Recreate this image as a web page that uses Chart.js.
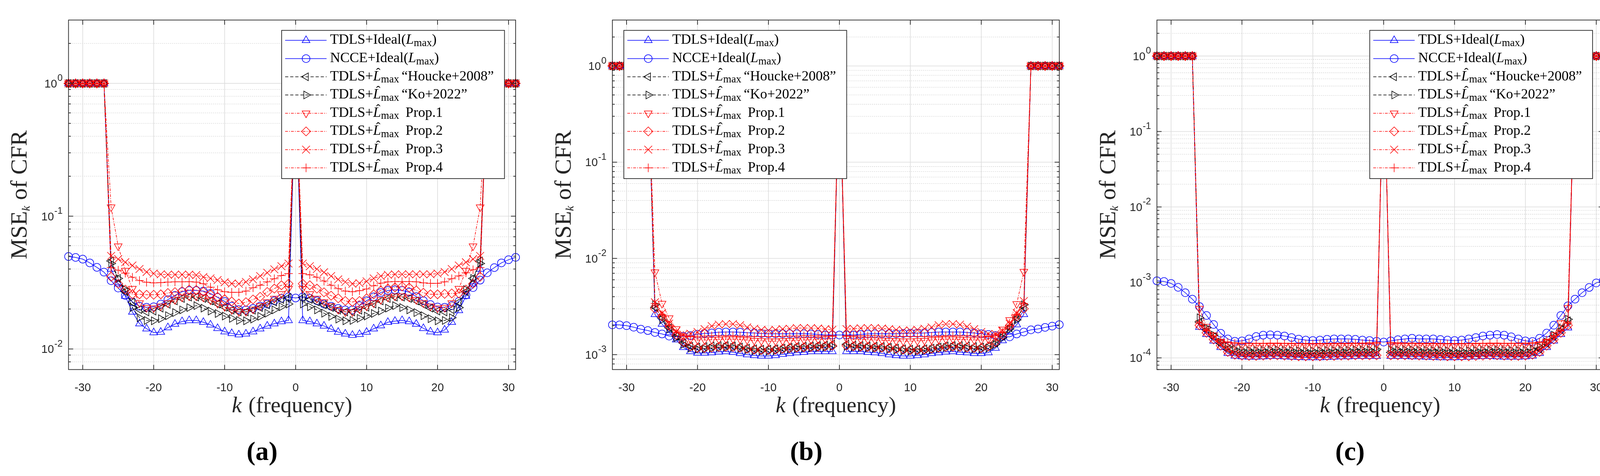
<!DOCTYPE html>
<html>
<head>
<meta charset="utf-8">
<script src="https://cdn.jsdelivr.net/npm/chart.js@4.4.1/dist/chart.umd.min.js"></script>
<style>
  html, body { margin: 0; padding: 0; background: #fff; }
  #wrap { position: relative; width: 4142px; height: 1218px; overflow: hidden; background: #fff; }
  #wrap canvas { position: absolute; top: 0; }
</style>
</head>
<body>
<div id="wrap">
  <canvas id="cA"></canvas>
  <canvas id="cB"></canvas>
  <canvas id="cC"></canvas>
</div>
<script>
// subcarrier index k
const kValues = [-32,-31,-30,-29,-28,-27,-26,-25,-24,-23,-22,-21,-20,-19,-18,-17,-16,-15,-14,-13,-12,-11,-10,-9,-8,-7,-6,-5,-4,-3,-2,-1,
  0,1,2,3,4,5,6,7,8,9,10,11,12,13,14,15,16,17,18,19,20,21,22,23,24,25,26,27,28,29,30,31];
const xTicks = [-30, -20, -10, 0, 10, 20, 30];
const panelTags = ["(a)", "(b)", "(c)"];
const seriesLabels = [
  "TDLS+Ideal(Lmax)", "NCCE+Ideal(Lmax)", "TDLS+L^max \u201CHoucke+2008\u201D", "TDLS+L^max \u201CKo+2022\u201D",
  "TDLS+L^max Prop.1", "TDLS+L^max Prop.2", "TDLS+L^max Prop.3", "TDLS+L^max Prop.4"
];

// ---- panel (a) ----
const tdlsIdealA = [1,1,1,1,1,1,
  0.040,0.031,0.025,0.019,0.0155,0.0142,0.0133,0.0134,0.0145,0.0154,0.0161,0.0164,0.0164,0.0159,0.0152,0.0143,0.0135,0.0131,0.0128,0.0130,0.0135,0.0142,0.0149,0.0155,0.0161,0.0164,
  1,
  0.0164,0.0161,0.0155,0.0149,0.0141,0.0134,0.0130,0.0127,0.0129,0.0134,0.0142,0.0150,0.0159,0.0162,0.0164,0.0161,0.0154,0.0143,0.0135,0.0133,0.0139,0.0159,0.0195,0.025,0.031,0.040,
  1,1,1,1,1];
const ncceA = [0.0497,0.0489,0.0475,0.0445,0.0412,0.0379,
  0.0327,0.0288,0.0253,0.0226,0.0210,0.0206,0.0208,0.0218,0.0235,0.0253,0.0270,0.0276,0.0276,0.0273,0.0262,0.0245,0.0228,0.0210,0.0198,0.0197,0.0202,0.0210,0.0218,0.0231,0.0241,0.0247,
  0.0242,
  0.0247,0.0241,0.0231,0.0218,0.0210,0.0202,0.0197,0.0197,0.0212,0.0231,0.0247,0.0266,0.0276,0.0279,0.0276,0.0268,0.0248,0.0231,0.0216,0.0207,0.0206,0.0212,0.0228,0.0255,0.0290,0.0330,
  0.0375,0.0410,0.0445,0.0470,0.0490];
const houckeA = [1,1,1,1,1,1,
  0.046,0.034,0.027,0.0225,0.0198,0.0190,0.0193,0.0203,0.0217,0.0230,0.0240,0.0246,0.0246,0.0240,0.0230,0.0218,0.0206,0.0196,0.0190,0.0190,0.0196,0.0205,0.0215,0.0226,0.0236,0.0244,
  1,
  0.0244,0.0236,0.0226,0.0215,0.0205,0.0196,0.0190,0.0190,0.0196,0.0206,0.0218,0.0230,0.0240,0.0246,0.0246,0.0240,0.0230,0.0217,0.0203,0.0193,0.0190,0.0198,0.0225,0.027,0.034,0.046,
  1,1,1,1,1];
const koA = [1,1,1,1,1,1,
  0.044,0.034,0.028,0.0205,0.0172,0.0164,0.0163,0.0169,0.0178,0.0188,0.0197,0.0205,0.0212,0.0203,0.0193,0.0185,0.0177,0.0170,0.0164,0.0163,0.0168,0.0176,0.0186,0.0197,0.0208,0.0218,
  1,
  0.0218,0.0208,0.0197,0.0186,0.0176,0.0168,0.0163,0.0164,0.0170,0.0177,0.0185,0.0193,0.0203,0.0212,0.0205,0.0197,0.0188,0.0178,0.0169,0.0163,0.0164,0.0172,0.0205,0.028,0.034,0.044,
  1,1,1,1,1];
const prop1A = [1,1,1,1,1,1,
  0.117,0.0595,0.039,0.0285,0.0222,0.0205,0.0203,0.0210,0.0222,0.0235,0.0245,0.0250,0.0250,0.0245,0.0233,0.0220,0.0208,0.0197,0.0190,0.0191,0.0199,0.0211,0.0226,0.0240,0.0260,0.0285,
  1,
  0.0285,0.0260,0.0240,0.0226,0.0211,0.0198,0.0190,0.0190,0.0200,0.0210,0.0222,0.0235,0.0245,0.0250,0.0250,0.0245,0.0235,0.0222,0.0210,0.0203,0.0205,0.0222,0.0285,0.039,0.0595,0.117,
  1,1,1,1,1];
const prop2A = [1,1,1,1,1,1,
  0.035,0.031,0.028,0.0258,0.0258,0.0256,0.0256,0.0258,0.0264,0.0268,0.0273,0.0280,0.0278,0.0270,0.0258,0.0247,0.0237,0.0228,0.0220,0.0225,0.0236,0.0247,0.0269,0.0285,0.0302,0.0310,
  1,
  0.0310,0.0302,0.0285,0.0267,0.0252,0.0241,0.0230,0.0226,0.0230,0.0241,0.0258,0.0276,0.0285,0.0291,0.0296,0.0290,0.0276,0.0265,0.0258,0.0258,0.0260,0.0262,0.0262,0.028,0.031,0.035,
  1,1,1,1,1];
const prop3A = [1,1,1,1,1,1,
  0.0502,0.0475,0.0450,0.0425,0.0400,0.0380,0.0370,0.0365,0.0363,0.0363,0.0363,0.0363,0.0360,0.0348,0.0340,0.0330,0.0318,0.0311,0.0310,0.0320,0.0334,0.0354,0.0375,0.0398,0.0420,0.0440,
  1,
  0.0440,0.0420,0.0400,0.0378,0.0354,0.0334,0.0320,0.0310,0.0313,0.0323,0.0340,0.0354,0.0362,0.0365,0.0365,0.0365,0.0365,0.0365,0.0365,0.0370,0.0380,0.0400,0.0425,0.0450,0.0475,0.0502,
  1,1,1,1,1];
const prop4A = [1,1,1,1,1,1,
  0.0410,0.0392,0.0372,0.0347,0.0328,0.0318,0.0315,0.0316,0.0319,0.0320,0.0320,0.0321,0.0319,0.0310,0.0292,0.0279,0.0270,0.0267,0.0267,0.0273,0.0289,0.0302,0.0320,0.0338,0.0357,0.0370,
  1,
  0.0370,0.0362,0.0347,0.0325,0.0302,0.0285,0.0273,0.0270,0.0275,0.0283,0.0299,0.0313,0.0320,0.0322,0.0322,0.0322,0.0320,0.0315,0.0312,0.0312,0.0320,0.0338,0.0355,0.0375,0.0395,0.0410,
  1,1,1,1,1];

// ---- panel (b) ----
const tdlsIdealB = [1,1,1,1,1,1,
  2.62e-3,2.08e-3,1.70e-3,1.43e-3,1.19e-3,1.08e-3,1.04e-3,1.04e-3,1.05e-3,1.07e-3,1.08e-3,1.06e-3,1.03e-3,1.00e-3,0.98e-3,0.97e-3,0.97e-3,0.98e-3,1.01e-3,1.03e-3,1.05e-3,1.06e-3,1.08e-3,1.08e-3,1.08e-3,1.08e-3,
  1,
  1.08e-3,1.08e-3,1.08e-3,1.06e-3,1.05e-3,1.03e-3,1.00e-3,0.98e-3,0.97e-3,0.97e-3,0.98e-3,1.00e-3,1.03e-3,1.05e-3,1.07e-3,1.08e-3,1.06e-3,1.05e-3,1.03e-3,1.03e-3,1.05e-3,1.17e-3,1.40e-3,1.72e-3,2.05e-3,2.62e-3,
  1,1,1,1,1];
const ncceB = [2.04e-3,2.04e-3,2.00e-3,1.93e-3,1.84e-3,1.78e-3,
  1.70e-3,1.64e-3,1.56e-3,1.54e-3,1.55e-3,1.58e-3,1.63e-3,1.66e-3,1.68e-3,1.71e-3,1.72e-3,1.72e-3,1.71e-3,1.69e-3,1.68e-3,1.66e-3,1.65e-3,1.65e-3,1.65e-3,1.65e-3,1.65e-3,1.65e-3,1.64e-3,1.62e-3,1.60e-3,1.60e-3,
  1.60e-3,
  1.60e-3,1.60e-3,1.62e-3,1.64e-3,1.65e-3,1.65e-3,1.65e-3,1.65e-3,1.66e-3,1.67e-3,1.67e-3,1.68e-3,1.70e-3,1.72e-3,1.72e-3,1.72e-3,1.72e-3,1.70e-3,1.68e-3,1.65e-3,1.62e-3,1.58e-3,1.55e-3,1.53e-3,1.64e-3,1.72e-3,
  1.81e-3,1.85e-3,1.92e-3,1.98e-3,2.05e-3];
const houckeB = [1,1,1,1,1,1,
  3.10e-3,2.40e-3,1.90e-3,1.55e-3,1.32e-3,1.22e-3,1.20e-3,1.21e-3,1.23e-3,1.24e-3,1.24e-3,1.23e-3,1.20e-3,1.17e-3,1.15e-3,1.14e-3,1.14e-3,1.15e-3,1.17e-3,1.19e-3,1.21e-3,1.22e-3,1.23e-3,1.24e-3,1.25e-3,1.28e-3,
  1,
  1.28e-3,1.25e-3,1.24e-3,1.23e-3,1.22e-3,1.21e-3,1.19e-3,1.17e-3,1.15e-3,1.14e-3,1.14e-3,1.15e-3,1.17e-3,1.20e-3,1.23e-3,1.24e-3,1.24e-3,1.23e-3,1.21e-3,1.20e-3,1.22e-3,1.32e-3,1.55e-3,1.90e-3,2.40e-3,3.10e-3,
  1,1,1,1,1];
const koB = [1,1,1,1,1,1,
  3.30e-3,2.30e-3,1.85e-3,1.50e-3,1.28e-3,1.17e-3,1.14e-3,1.15e-3,1.17e-3,1.19e-3,1.20e-3,1.19e-3,1.16e-3,1.13e-3,1.10e-3,1.09e-3,1.09e-3,1.10e-3,1.12e-3,1.14e-3,1.16e-3,1.17e-3,1.18e-3,1.19e-3,1.20e-3,1.22e-3,
  1,
  1.22e-3,1.20e-3,1.19e-3,1.18e-3,1.17e-3,1.16e-3,1.14e-3,1.12e-3,1.10e-3,1.09e-3,1.09e-3,1.10e-3,1.13e-3,1.16e-3,1.19e-3,1.20e-3,1.19e-3,1.17e-3,1.15e-3,1.14e-3,1.17e-3,1.28e-3,1.50e-3,1.85e-3,2.30e-3,3.30e-3,
  1,1,1,1,1];
const prop1B = [1,1,1,1,1,1,
  7.20e-3,3.40e-3,2.40e-3,1.85e-3,1.55e-3,1.45e-3,1.42e-3,1.42e-3,1.43e-3,1.44e-3,1.45e-3,1.45e-3,1.44e-3,1.42e-3,1.40e-3,1.39e-3,1.38e-3,1.38e-3,1.39e-3,1.40e-3,1.41e-3,1.42e-3,1.43e-3,1.44e-3,1.45e-3,1.47e-3,
  1,
  1.47e-3,1.45e-3,1.44e-3,1.43e-3,1.42e-3,1.41e-3,1.40e-3,1.39e-3,1.38e-3,1.38e-3,1.39e-3,1.40e-3,1.42e-3,1.44e-3,1.45e-3,1.45e-3,1.44e-3,1.43e-3,1.42e-3,1.42e-3,1.45e-3,1.55e-3,1.83e-3,2.30e-3,3.37e-3,7.30e-3,
  1,1,1,1,1];
const prop2B = [1,1,1,1,1,1,
  3.00e-3,2.50e-3,2.00e-3,1.60e-3,1.35e-3,1.22e-3,1.17e-3,1.17e-3,1.18e-3,1.20e-3,1.21e-3,1.20e-3,1.18e-3,1.15e-3,1.13e-3,1.12e-3,1.12e-3,1.13e-3,1.15e-3,1.17e-3,1.18e-3,1.19e-3,1.20e-3,1.21e-3,1.22e-3,1.24e-3,
  1,
  1.24e-3,1.22e-3,1.21e-3,1.20e-3,1.19e-3,1.18e-3,1.17e-3,1.15e-3,1.13e-3,1.12e-3,1.12e-3,1.13e-3,1.15e-3,1.18e-3,1.20e-3,1.21e-3,1.20e-3,1.18e-3,1.17e-3,1.17e-3,1.22e-3,1.35e-3,1.60e-3,2.00e-3,2.50e-3,3.00e-3,
  1,1,1,1,1];
const prop3B = [1,1,1,1,1,1,
  3.50e-3,2.70e-3,2.10e-3,1.75e-3,1.62e-3,1.65e-3,1.72e-3,1.84e-3,1.98e-3,2.05e-3,2.08e-3,2.08e-3,2.02e-3,1.92e-3,1.86e-3,1.81e-3,1.78e-3,1.81e-3,1.84e-3,1.86e-3,1.89e-3,1.89e-3,1.89e-3,1.87e-3,1.84e-3,1.81e-3,
  1,
  1.84e-3,1.86e-3,1.88e-3,1.89e-3,1.89e-3,1.87e-3,1.84e-3,1.81e-3,1.78e-3,1.78e-3,1.81e-3,1.86e-3,1.92e-3,2.02e-3,2.08e-3,2.08e-3,2.05e-3,1.95e-3,1.84e-3,1.72e-3,1.64e-3,1.64e-3,1.78e-3,2.10e-3,2.70e-3,3.60e-3,
  1,1,1,1,1];
const prop4B = [1,1,1,1,1,1,
  3.40e-3,2.60e-3,2.00e-3,1.70e-3,1.58e-3,1.55e-3,1.55e-3,1.56e-3,1.57e-3,1.57e-3,1.57e-3,1.57e-3,1.56e-3,1.55e-3,1.54e-3,1.54e-3,1.54e-3,1.54e-3,1.55e-3,1.56e-3,1.56e-3,1.57e-3,1.57e-3,1.57e-3,1.57e-3,1.57e-3,
  1,
  1.57e-3,1.57e-3,1.57e-3,1.57e-3,1.57e-3,1.56e-3,1.56e-3,1.55e-3,1.54e-3,1.54e-3,1.54e-3,1.54e-3,1.55e-3,1.56e-3,1.57e-3,1.57e-3,1.57e-3,1.57e-3,1.56e-3,1.55e-3,1.55e-3,1.58e-3,1.70e-3,2.00e-3,2.60e-3,3.40e-3,
  1,1,1,1,1];

// ---- panel (c) ----
const tdlsIdealC = [1,1,1,1,1,1,
  2.55e-4,2.05e-4,1.68e-4,1.38e-4,1.15e-4,1.06e-4,1.04e-4,1.03e-4,1.03e-4,1.04e-4,1.05e-4,1.05e-4,1.04e-4,1.03e-4,1.02e-4,1.01e-4,1.01e-4,1.01e-4,1.02e-4,1.03e-4,1.04e-4,1.04e-4,1.05e-4,1.05e-4,1.05e-4,1.05e-4,
  1,
  1.05e-4,1.05e-4,1.05e-4,1.04e-4,1.04e-4,1.03e-4,1.02e-4,1.01e-4,1.01e-4,1.01e-4,1.02e-4,1.03e-4,1.04e-4,1.05e-4,1.05e-4,1.04e-4,1.03e-4,1.03e-4,1.03e-4,1.04e-4,1.06e-4,1.15e-4,1.38e-4,1.68e-4,2.05e-4,2.50e-4,
  1,1,1,1,1];
const ncceC = [1.05e-3,1.03e-3,9.7e-4,8.6e-4,7.3e-4,6.0e-4,
  4.8e-4,3.65e-4,2.77e-4,2.12e-4,1.78e-4,1.66e-4,1.68e-4,1.78e-4,1.92e-4,2.00e-4,2.02e-4,2.00e-4,1.95e-4,1.86e-4,1.77e-4,1.72e-4,1.70e-4,1.72e-4,1.76e-4,1.78e-4,1.78e-4,1.78e-4,1.76e-4,1.72e-4,1.70e-4,1.66e-4,
  1.62e-4,
  1.68e-4,1.74e-4,1.78e-4,1.82e-4,1.78e-4,1.78e-4,1.78e-4,1.75e-4,1.72e-4,1.70e-4,1.72e-4,1.78e-4,1.86e-4,1.95e-4,2.00e-4,2.04e-4,2.00e-4,1.90e-4,1.78e-4,1.68e-4,1.65e-4,1.82e-4,2.13e-4,2.71e-4,3.65e-4,4.90e-4,
  6.0e-4,7.3e-4,8.57e-4,9.85e-4,1.065e-3];
const houckeC = [1,1,1,1,1,1,
  3.00e-4,2.35e-4,1.90e-4,1.55e-4,1.30e-4,1.20e-4,1.16e-4,1.15e-4,1.15e-4,1.16e-4,1.17e-4,1.17e-4,1.16e-4,1.15e-4,1.14e-4,1.14e-4,1.14e-4,1.14e-4,1.15e-4,1.16e-4,1.16e-4,1.17e-4,1.17e-4,1.17e-4,1.17e-4,1.18e-4,
  1,
  1.18e-4,1.17e-4,1.17e-4,1.17e-4,1.17e-4,1.16e-4,1.16e-4,1.15e-4,1.14e-4,1.14e-4,1.14e-4,1.14e-4,1.15e-4,1.16e-4,1.17e-4,1.17e-4,1.16e-4,1.15e-4,1.15e-4,1.16e-4,1.20e-4,1.30e-4,1.55e-4,1.90e-4,2.35e-4,3.10e-4,
  1,1,1,1,1];
const koC = [1,1,1,1,1,1,
  3.40e-4,2.50e-4,2.00e-4,1.62e-4,1.40e-4,1.30e-4,1.27e-4,1.26e-4,1.26e-4,1.27e-4,1.28e-4,1.28e-4,1.27e-4,1.26e-4,1.25e-4,1.24e-4,1.24e-4,1.25e-4,1.26e-4,1.26e-4,1.27e-4,1.27e-4,1.28e-4,1.28e-4,1.28e-4,1.30e-4,
  1,
  1.30e-4,1.28e-4,1.28e-4,1.28e-4,1.27e-4,1.27e-4,1.26e-4,1.26e-4,1.25e-4,1.24e-4,1.24e-4,1.25e-4,1.26e-4,1.27e-4,1.28e-4,1.28e-4,1.27e-4,1.26e-4,1.26e-4,1.27e-4,1.30e-4,1.40e-4,1.62e-4,2.00e-4,2.50e-4,3.24e-4,
  1,1,1,1,1];
const prop1C = [1,1,1,1,1,1,
  4.50e-4,2.60e-4,2.00e-4,1.65e-4,1.52e-4,1.48e-4,1.47e-4,1.46e-4,1.46e-4,1.46e-4,1.47e-4,1.47e-4,1.46e-4,1.46e-4,1.45e-4,1.45e-4,1.45e-4,1.45e-4,1.45e-4,1.46e-4,1.46e-4,1.46e-4,1.47e-4,1.47e-4,1.48e-4,1.50e-4,
  1,
  1.50e-4,1.48e-4,1.47e-4,1.47e-4,1.46e-4,1.46e-4,1.46e-4,1.45e-4,1.45e-4,1.45e-4,1.45e-4,1.45e-4,1.46e-4,1.46e-4,1.47e-4,1.47e-4,1.46e-4,1.46e-4,1.46e-4,1.47e-4,1.48e-4,1.52e-4,1.65e-4,2.00e-4,2.90e-4,4.60e-4,
  1,1,1,1,1];
const prop2C = [1,1,1,1,1,1,
  2.70e-4,2.15e-4,1.75e-4,1.45e-4,1.20e-4,1.10e-4,1.07e-4,1.06e-4,1.06e-4,1.07e-4,1.08e-4,1.08e-4,1.07e-4,1.06e-4,1.05e-4,1.05e-4,1.05e-4,1.05e-4,1.06e-4,1.06e-4,1.07e-4,1.07e-4,1.08e-4,1.08e-4,1.08e-4,1.08e-4,
  1,
  1.08e-4,1.08e-4,1.08e-4,1.08e-4,1.07e-4,1.07e-4,1.06e-4,1.06e-4,1.05e-4,1.05e-4,1.05e-4,1.05e-4,1.06e-4,1.07e-4,1.08e-4,1.08e-4,1.07e-4,1.06e-4,1.06e-4,1.07e-4,1.10e-4,1.20e-4,1.45e-4,1.75e-4,2.15e-4,2.70e-4,
  1,1,1,1,1];
const prop3C = [1,1,1,1,1,1,
  2.80e-4,2.20e-4,1.80e-4,1.50e-4,1.25e-4,1.14e-4,1.11e-4,1.10e-4,1.10e-4,1.11e-4,1.12e-4,1.12e-4,1.11e-4,1.10e-4,1.09e-4,1.09e-4,1.09e-4,1.09e-4,1.10e-4,1.10e-4,1.11e-4,1.11e-4,1.12e-4,1.12e-4,1.12e-4,1.12e-4,
  1,
  1.12e-4,1.12e-4,1.12e-4,1.12e-4,1.11e-4,1.11e-4,1.10e-4,1.10e-4,1.09e-4,1.09e-4,1.09e-4,1.09e-4,1.10e-4,1.11e-4,1.12e-4,1.12e-4,1.11e-4,1.10e-4,1.10e-4,1.11e-4,1.14e-4,1.25e-4,1.50e-4,1.80e-4,2.20e-4,2.75e-4,
  1,1,1,1,1];
const prop4C = [1,1,1,1,1,1,
  2.90e-4,2.30e-4,1.95e-4,1.72e-4,1.60e-4,1.56e-4,1.55e-4,1.55e-4,1.55e-4,1.55e-4,1.55e-4,1.55e-4,1.55e-4,1.54e-4,1.54e-4,1.53e-4,1.53e-4,1.53e-4,1.53e-4,1.54e-4,1.54e-4,1.54e-4,1.55e-4,1.55e-4,1.55e-4,1.56e-4,
  1,
  1.56e-4,1.55e-4,1.55e-4,1.55e-4,1.54e-4,1.54e-4,1.54e-4,1.53e-4,1.53e-4,1.53e-4,1.53e-4,1.54e-4,1.54e-4,1.55e-4,1.55e-4,1.55e-4,1.55e-4,1.55e-4,1.55e-4,1.55e-4,1.56e-4,1.60e-4,1.72e-4,1.95e-4,2.30e-4,2.90e-4,
  1,1,1,1,1];

// line / marker look of each series (MATLAB style)
const seriesStyles = [
  { color: "#0000ff", dash: [],          style: "triangle", rot: 0,   r: 11.5 },
  { color: "#0000ff", dash: [],          style: "circle",   rot: 0,   r: 10 },
  { color: "#000000", dash: [8, 5],      style: "triangle", rot: -90, r: 11.5 },
  { color: "#000000", dash: [8, 5],      style: "triangle", rot: 90,  r: 11.5 },
  { color: "#ff0000", dash: [7, 3, 2, 3], style: "triangle", rot: 180, r: 11.5 },
  { color: "#ff0000", dash: [7, 3, 2, 3], style: "rectRot",  rot: 0,   r: 11.5 },
  { color: "#ff0000", dash: [7, 3, 2, 3], style: "crossRot", rot: 0,   r: 14 },
  { color: "#ff0000", dash: [7, 3, 2, 3], style: "cross",    rot: 0,   r: 11 }
];

// rich text pieces (italic, subscript, hat)
const legendText = [
  [{ t: "TDLS+Ideal(" }, { t: "L", it: 1 }, { t: "max", sub: 1 }, { t: ")" }],
  [{ t: "NCCE+Ideal(" }, { t: "L", it: 1 }, { t: "max", sub: 1 }, { t: ")" }],
  [{ t: "TDLS+" }, { t: "L", it: 1, hat: 1 }, { t: "max", sub: 1 }, { gap: 0.17 }, { t: "\u201CHoucke+2008\u201D" }],
  [{ t: "TDLS+" }, { t: "L", it: 1, hat: 1 }, { t: "max", sub: 1 }, { gap: 0.17 }, { t: "\u201CKo+2022\u201D" }],
  [{ t: "TDLS+" }, { t: "L", it: 1, hat: 1 }, { t: "max", sub: 1 }, { gap: 0.46 }, { t: "Prop.1" }],
  [{ t: "TDLS+" }, { t: "L", it: 1, hat: 1 }, { t: "max", sub: 1 }, { gap: 0.46 }, { t: "Prop.2" }],
  [{ t: "TDLS+" }, { t: "L", it: 1, hat: 1 }, { t: "max", sub: 1 }, { gap: 0.46 }, { t: "Prop.3" }],
  [{ t: "TDLS+" }, { t: "L", it: 1, hat: 1 }, { t: "max", sub: 1 }, { gap: 0.46 }, { t: "Prop.4" }]
];
const yTitleText = [{ t: "MSE" }, { t: "k", it: 1, sub: 1 }, { t: " of CFR" }];
const xTitleText = [{ t: "k", it: 1 }, { gap: 0.3 }, { t: "(frequency)" }];

const PLOT_TOP = 51.3, PLOT_BOTTOM = 945.6, FULL_H = 1218;
const SERIF = '"Liberation Serif", "DejaVu Serif", serif';
const SANS = '"Liberation Sans", Arial, sans-serif';

const panels = [
  { id: "cA", left: 0,    width: 1390, plotLeft: 175.4,  plotRight: 1320,   yMin: 0.007,   yMax: 3, legendLeft: 721,    labelX: 671,
    series: [tdlsIdealA, ncceA, houckeA, koA, prop1A, prop2A, prop3A, prop4A] },
  { id: "cB", left: 1390, width: 1370, plotLeft: 1567.7, plotRight: 2711.8, yMin: 0.0007,  yMax: 3, legendLeft: 1597,   labelX: 2064,
    series: [tdlsIdealB, ncceB, houckeB, koB, prop1B, prop2B, prop3B, prop4B] },
  { id: "cC", left: 2760, width: 1382, plotLeft: 2961.7, plotRight: 4104.6, yMin: 0.00007, yMax: 3, legendLeft: 3506.5, labelX: 3456,
    series: [tdlsIdealC, ncceC, houckeC, koC, prop1C, prop2C, prop3C, prop4C] }
];

function segFont(seg, size, opt) {
  const s = seg.sub ? size * opt.subScale : size;
  return (seg.it ? "italic " : "") + (opt.bold ? "bold " : "") + s.toFixed(1) + "px " + SERIF;
}

function drawRich(ctx, segs, x, y, size, align, opt) {
  opt = Object.assign({ subScale: 0.75, subShift: 0.16 }, opt || {});
  ctx.textAlign = "left";
  ctx.textBaseline = "alphabetic";
  const widths = segs.map(seg => {
    if (seg.gap) return seg.gap * size;
    ctx.font = segFont(seg, size, opt);
    return ctx.measureText(seg.t).width;
  });
  const total = widths.reduce((s, w) => s + w, 0);
  let cx = align === "center" ? x - total / 2 : (align === "right" ? x - total : x);
  segs.forEach((seg, i) => {
    if (!seg.gap) {
      ctx.font = segFont(seg, size, opt);
      ctx.fillText(seg.t, cx, y + (seg.sub ? size * opt.subShift : 0));
      if (seg.hat) {
        ctx.font = (size * 0.95).toFixed(1) + "px " + SERIF;
        ctx.textAlign = "center";
        ctx.fillText("\u02C6", cx + widths[i] * 0.64, y - size * 0.22);
        ctx.textAlign = "left";
      }
    }
    cx += widths[i];
  });
}

function logGrid(p) {
  const major = [], minor = [];
  const lo = Math.floor(Math.log10(p.yMin)), hi = Math.ceil(Math.log10(p.yMax));
  for (let n = lo; n <= hi; n++) {
    const base = Math.pow(10, n);
    if (base >= p.yMin && base <= p.yMax) major.push(n);
    for (let m = 2; m <= 9; m++) {
      const v = m * base;
      if (v > p.yMin && v < p.yMax) minor.push(v);
    }
  }
  return { major, minor };
}

function makeAxesPlugin(p) {
  const grid = logGrid(p);
  return {
    id: "matlabAxes",
    beforeDatasetsDraw(chart) {
      const { ctx, chartArea: a, scales } = chart;
      ctx.save();
      ctx.beginPath();
      ctx.rect(a.left, a.top, a.right - a.left, a.bottom - a.top);
      ctx.clip();
      // dotted minor grid on the log axis
      ctx.lineWidth = 1.3;
      ctx.strokeStyle = "#c6c6c6";
      ctx.setLineDash([2, 3]);
      grid.minor.forEach(v => {
        const py = scales.y.getPixelForValue(v);
        ctx.beginPath(); ctx.moveTo(a.left, py); ctx.lineTo(a.right, py); ctx.stroke();
      });
      // solid major grid
      ctx.setLineDash([]);
      ctx.strokeStyle = "#dcdcdc";
      ctx.lineWidth = 1.6;
      grid.major.forEach(n => {
        const py = scales.y.getPixelForValue(Math.pow(10, n));
        ctx.beginPath(); ctx.moveTo(a.left, py); ctx.lineTo(a.right, py); ctx.stroke();
      });
      xTicks.forEach(v => {
        const px = scales.x.getPixelForValue(v);
        ctx.beginPath(); ctx.moveTo(px, a.top); ctx.lineTo(px, a.bottom); ctx.stroke();
      });
      ctx.restore();
    },
    afterDatasetsDraw(chart) {
      const { ctx, chartArea: a, scales } = chart;
      ctx.save();
      // box + inward ticks
      ctx.strokeStyle = "#262626";
      ctx.lineWidth = 1.8;
      ctx.setLineDash([]);
      ctx.strokeRect(a.left, a.top, a.right - a.left, a.bottom - a.top);
      const tick = (x1, y1, x2, y2) => { ctx.beginPath(); ctx.moveTo(x1, y1); ctx.lineTo(x2, y2); ctx.stroke(); };
      grid.major.forEach(n => {
        const py = scales.y.getPixelForValue(Math.pow(10, n));
        tick(a.left, py, a.left + 12, py); tick(a.right, py, a.right - 12, py);
      });
      grid.minor.forEach(v => {
        const py = scales.y.getPixelForValue(v);
        tick(a.left, py, a.left + 6, py); tick(a.right, py, a.right - 6, py);
      });
      xTicks.forEach(v => {
        const px = scales.x.getPixelForValue(v);
        tick(px, a.bottom, px, a.bottom - 12); tick(px, a.top, px, a.top + 12);
      });

      // legend box
      const lx = p.legendLeft - p.left, ly = 77.7, lw = 570.5, lh = 379.3;
      ctx.fillStyle = "#ffffff";
      ctx.fillRect(lx, ly, lw, lh);
      ctx.strokeStyle = "#262626";
      ctx.lineWidth = 1.8;
      ctx.strokeRect(lx, ly, lw, lh);
      seriesStyles.forEach((st, i) => {
        const ry = ly + 25.6 + i * 46.6;
        ctx.strokeStyle = st.color;
        ctx.lineWidth = 1.5;
        ctx.setLineDash(st.dash);
        ctx.beginPath(); ctx.moveTo(lx + 9, ry); ctx.lineTo(lx + 115, ry); ctx.stroke();
        ctx.setLineDash([]);
        ctx.fillStyle = "rgba(0,0,0,0)";
        Chart.helpers.drawPoint(ctx, { pointStyle: st.style, rotation: st.rot, radius: st.r, borderWidth: 1.5 }, lx + 62.5, ry);
        ctx.fillStyle = "#000000";
        drawRich(ctx, legendText[i], lx + 124, ry + 9, 36, "left", { subScale: 0.75, subShift: 0.16 });
      });
      ctx.restore();
    },
    afterDraw(chart) {
      const { ctx, chartArea: a, scales } = chart;
      ctx.save();
      // y tick labels 10^n
      ctx.fillStyle = "#262626";
      ctx.textBaseline = "alphabetic";
      ctx.textAlign = "left";
      grid.major.forEach(n => {
        const py = scales.y.getPixelForValue(Math.pow(10, n));
        const ex = String(n);
        ctx.font = "24px " + SANS;
        const ew = ctx.measureText(ex).width;
        ctx.font = "29px " + SANS;
        const bw = ctx.measureText("10").width;
        const xr = a.left - 15;
        ctx.fillText("10", xr - ew - bw - 1, py + 10.4);
        ctx.font = "24px " + SANS;
        ctx.fillText(ex, xr - ew, py - 6.2);
      });
      // axis titles
      ctx.fillStyle = "#262626";
      ctx.save();
      ctx.translate(a.left - 107, (a.top + a.bottom) / 2);
      ctx.rotate(-Math.PI / 2);
      drawRich(ctx, yTitleText, 0, 0, 60, "center", { subScale: 0.5, subShift: 0.12 });
      ctx.restore();
      drawRich(ctx, xTitleText, (a.left + a.right) / 2, 1055, 57, "center");
      // panel tag
      ctx.fillStyle = "#000000";
      ctx.font = "bold 68px " + SERIF;
      ctx.textAlign = "center";
      ctx.fillText(p.tag, p.labelX - p.left, 1177);
      ctx.restore();
    }
  };
}

panels.forEach((p, pi) => {
  p.tag = panelTags[pi];
  const canvas = document.getElementById(p.id);
  canvas.width = p.width;
  canvas.height = FULL_H;
  canvas.style.left = p.left + "px";
  canvas.style.width = p.width + "px";
  canvas.style.height = FULL_H + "px";

  const datasets = p.series.map((vals, i) => {
    const st = seriesStyles[i];
    return {
      label: seriesLabels[i],
      data: kValues.map((k, j) => ({ x: k, y: vals[j] })),
      borderColor: st.color,
      backgroundColor: "rgba(0,0,0,0)",
      borderWidth: 1.5,
      borderDash: st.dash,
      pointStyle: st.style,
      pointRotation: st.rot,
      pointRadius: st.r,
      pointHoverRadius: st.r,
      pointBorderWidth: 1.5,
      pointBorderColor: st.color,
      pointBackgroundColor: "rgba(0,0,0,0)",
      tension: 0,
      fill: false,
      clip: false,
      order: seriesStyles.length - i
    };
  });

  new Chart(canvas, {
    type: "line",
    data: { datasets },
    options: {
      responsive: false,
      maintainAspectRatio: false,
      devicePixelRatio: 1,
      animation: false,
      events: [],
      layout: {
        autoPadding: false,
        padding: { left: 0, top: PLOT_TOP, right: p.width - (p.plotRight - p.left), bottom: 0 }
      },
      plugins: { legend: { display: false }, tooltip: { enabled: false }, title: { display: false } },
      scales: {
        x: {
          type: "linear",
          min: -32,
          max: 31,
          grid: { display: false },
          border: { display: false },
          afterBuildTicks: s => { s.ticks = xTicks.map(v => ({ value: v })); },
          afterFit: s => { s.height = FULL_H - PLOT_BOTTOM; },
          ticks: {
            autoSkip: false,
            maxRotation: 0,
            padding: 22,
            color: "#262626",
            font: { family: "Liberation Sans", size: 29 }
          }
        },
        y: {
          type: "logarithmic",
          min: p.yMin,
          max: p.yMax,
          grid: { display: false },
          border: { display: false },
          ticks: { display: false },
          afterFit: s => { s.width = p.plotLeft - p.left; }
        }
      }
    },
    plugins: [makeAxesPlugin(p)]
  });
});
</script>
</body>
</html>
